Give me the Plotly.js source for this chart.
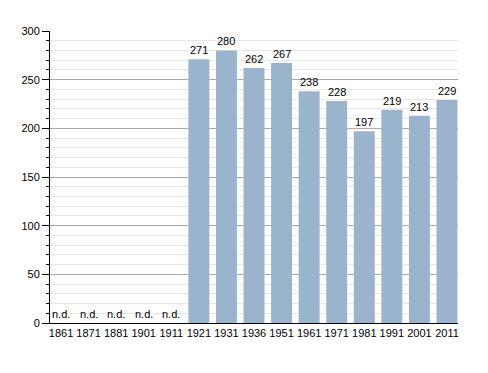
<!DOCTYPE html>
<html><head><meta charset="utf-8">
<script src="https://cdn.plot.ly/plotly-3.0.1.min.js"></script>
<style>body{margin:0;background:#fff}#c{width:488px;height:373px}</style>
</head><body><div id="c"></div>
<script>
var years = ['1861','1871','1881','1901','1911','1921','1931','1936','1951','1961','1971','1981','1991','2001','2011'];
var population = [null,null,null,null,null,271,280,262,267,238,228,197,219,213,229];
var labels = ['n.d.','n.d.','n.d.','n.d.','n.d.','271','280','262','267','238','228','197','219','213','229'];

var annotations = years.map(function(y,i){
  return {x:i, y:(population[i]||0), text:labels[i], showarrow:false, yanchor:'bottom', yshift:1,
          font:{family:'Liberation Sans, Arial, sans-serif', size:11, color:'#000'}};
});

Plotly.newPlot('c', [{
  type:'bar', x:years, y:population,
  marker:{color:'rgb(154,180,205)'}, width:0.76, hoverinfo:'none'
}], {
  width:488, height:373,
  margin:{l:50, r:30, t:31, b:50},
  paper_bgcolor:'#fff', plot_bgcolor:'#fff',
  showlegend:false,
  font:{family:'Liberation Sans, Arial, sans-serif', size:11, color:'#000'},
  xaxis:{type:'category', categoryorder:'array', categoryarray:years, range:[-0.4,14.4],
         showline:true, linecolor:'#000', linewidth:1, ticks:'', showgrid:false, tickfont:{size:11}},
  yaxis:{range:[0,300], dtick:50, showline:true, linecolor:'#000', linewidth:1, ticks:'outside', ticklen:7, tickcolor:'#000',
         showgrid:true, gridcolor:'#aaaaaa', zeroline:false,
         minor:{dtick:10, showgrid:true, gridcolor:'#e6e6e6', ticks:'outside', ticklen:3, tickcolor:'#000'}},
  annotations:annotations
}, {staticPlot:true});
</script></body></html>
